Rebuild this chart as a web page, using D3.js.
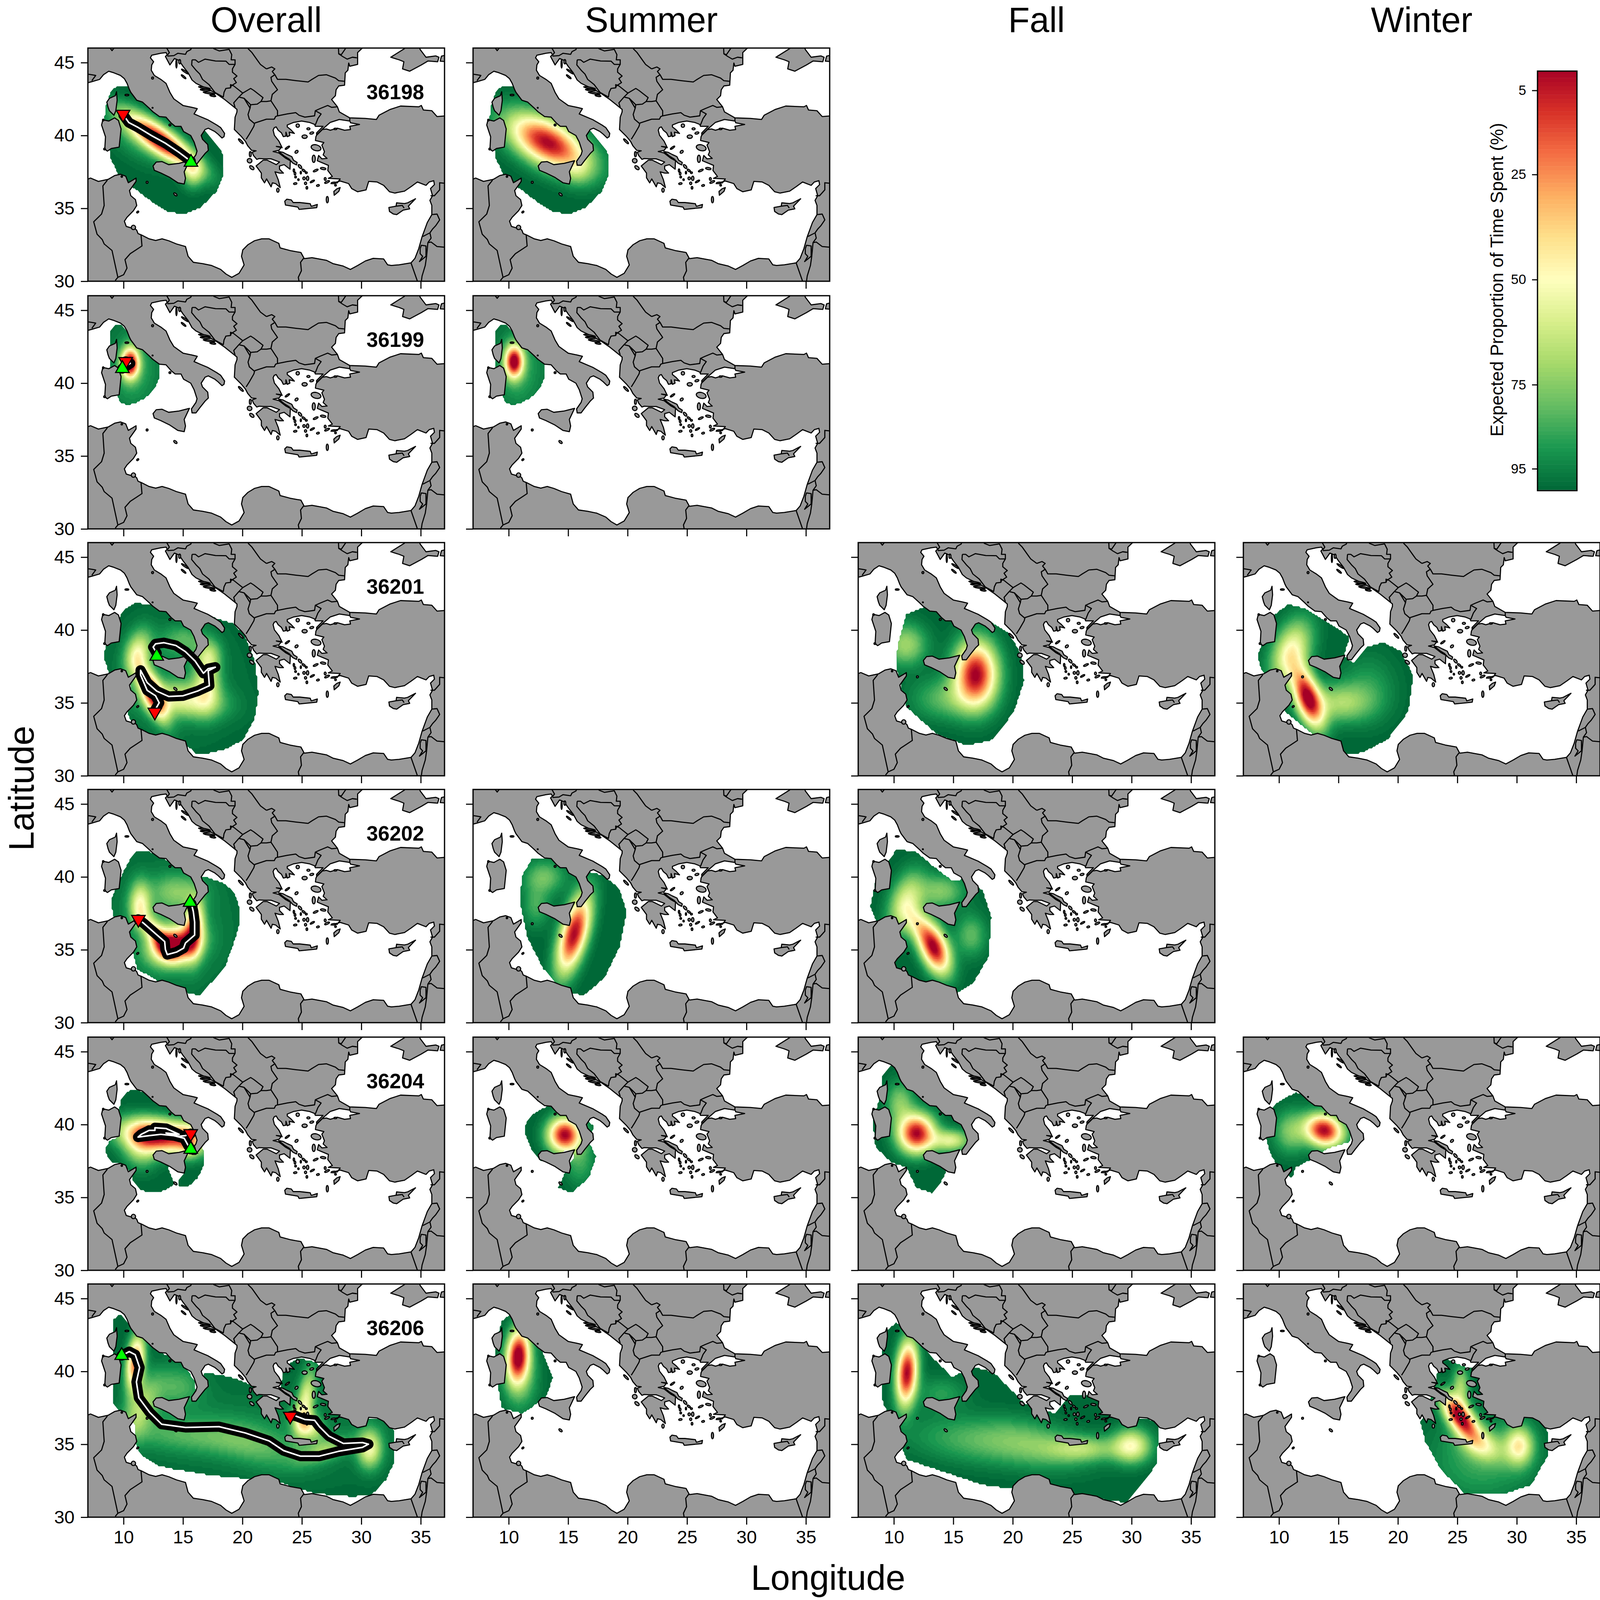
<!DOCTYPE html>
<html>
<head>
<meta charset="utf-8">
<script src="https://cdn.jsdelivr.net/npm/d3@7"></script>
<style>
  body { margin: 0; background: #fff; }
  text { font-family: "Liberation Sans", Arial, sans-serif; fill: #000; }
</style>
</head>
<body>
<div id="chart"></div>
<script>
// Labels and ticks
const seasons = ["Overall", "Summer", "Fall", "Winter"];
const tagIds = ["36198", "36199", "36201", "36202", "36204", "36206"];
const lonTicks = [10, 15, 20, 25, 30, 35];
const latTicks = [30, 35, 40, 45];
const legendTicks = [5, 25, 50, 75, 95];
const legendCells = d3.range(0, 100);

// Map, all [lon, lat]. Land is one ring round the sea plus the map corners
const landRing = [[6.8,43.58],[7.33,43.69],[7.99,43.85],[8.31,44.17],[8.75,44.41],[9.19,44.3],[9.74,44.12],[10.07,43.9],[10.29,43.58],[10.5,43.14],[10.61,42.96],[11.11,42.42],[11.6,42.29],[12.15,41.88],[12.48,41.62],[13.02,41.3],[13.57,41.26],[14.01,40.85],[14.34,40.63],[14.83,40.63],[15.05,40.27],[15.65,40],[15.93,39.56],[16.18,38.93],[16.09,38.68],[15.71,38.23],[15.76,37.96],[16.09,37.96],[16.42,38.32],[16.86,38.77],[17.13,38.98],[17.08,39.38],[16.64,39.74],[16.53,40],[16.86,40.41],[17.13,40.5],[17.68,40.27],[17.95,40.09],[18.28,39.83],[18.45,39.92],[18.5,40.14],[18.17,40.54],[17.84,40.72],[17.08,41.08],[15.93,41.48],[16.2,41.84],[15.76,41.93],[15,42.06],[14.23,42.51],[13.9,42.96],[13.57,43.58],[13.13,43.85],[12.59,44.12],[12.33,44.48],[12.37,44.84],[12.53,45.06],[12.26,45.33],[12.37,45.51],[13.13,45.64],[13.57,45.69],[13.68,45.55],[13.52,45.42],[13.9,44.84],[14.28,45.28],[14.67,45.15],[15,44.75],[15.43,44.3],[15.76,43.81],[16.09,43.58],[16.8,43.3],[17.73,42.91],[18.5,42.47],[19.27,41.97],[19.54,41.79],[19.54,41.62],[19.38,41.26],[19.32,40.41],[19.92,39.92],[20.25,39.6],[20.44,39.3],[20.77,38.98],[21.15,38.95],[20.82,38.85],[20.93,38.63],[21.21,38.36],[21.4,38.42],[21.86,38.4],[22.41,38.4],[23.12,38.18],[22.85,38],[22.08,38.31],[21.75,38.31],[21.15,37.91],[21.59,37.42],[21.59,37.1],[21.86,36.75],[22.03,37.02],[22.41,36.48],[22.52,36.75],[22.79,36.7],[23.18,36.43],[23.01,36.97],[22.74,37.51],[23.12,37.42],[23.45,37.42],[23.12,37.69],[23.12,37.91],[23.51,38],[24,37.69],[24.03,38.27],[23.62,38.45],[23.07,38.8],[22.58,38.9],[23.07,38.98],[23.29,39.21],[22.85,39.25],[23.34,39.16],[23.07,39.61],[22.69,40.01],[22.58,40.37],[22.68,40.54],[22.84,40.59],[23.01,40.36],[23.28,40.18],[23.44,39.92],[23.66,39.96],[23.66,40.23],[23.77,39.92],[23.99,40],[23.94,40.23],[24.37,40.14],[24.05,40.41],[23.77,40.59],[23.77,40.72],[24.32,40.9],[24.98,40.99],[25.63,40.9],[26.07,40.76],[26.13,40.63],[26.78,40.63],[26.24,40.18],[26.24,40.05],[26.78,40.47],[27.39,40.9],[28.15,41.1],[29.03,40.99],[29.1,40.87],[29.85,40.76],[29.03,40.63],[29.09,40.41],[28.59,40.36],[27.98,40.5],[27.39,40.36],[27.06,40.45],[26.73,40.41],[26.24,40.02],[26.18,39.92],[26.14,39.66],[26.85,39.52],[26.68,39.34],[26.9,38.89],[26.79,38.67],[27.12,38.43],[26.68,38.4],[26.41,38.63],[26.3,38.27],[27.23,37.95],[27.18,37.6],[27.56,37.19],[27.23,37.06],[28.22,37.02],[27.98,36.75],[27.45,36.7],[28.22,36.88],[28.93,36.7],[29.19,36.36],[29.69,36.14],[30.4,36.27],[30.62,36.85],[31.33,36.81],[31.88,36.58],[32.37,36.14],[32.81,36.05],[33.63,36.18],[34.18,36.49],[34.72,36.81],[35.44,36.58],[35.71,36.81],[36.09,36.9],[36.15,36.63],[35.82,36.36],[35.99,35.87],[35.77,35.55],[35.93,35.2],[35.93,34.57],[35.55,34.03],[35.11,33.05],[34.83,32.24],[34.51,31.57],[34.18,31.26],[33.19,31.13],[32.53,31.08],[32.21,31.13],[31.88,31.53],[31,31.57],[30.34,31.39],[29.69,31.08],[29.08,30.81],[28.48,31.04],[27.61,31.21],[27.06,31.44],[25.85,31.62],[25.2,31.55],[24.92,31.97],[23.99,32.11],[23.17,32.29],[23.06,32.6],[22.24,32.91],[21.62,32.91],[21.02,32.78],[20.47,32.51],[20.03,32.15],[19.92,31.71],[20.14,31.12],[19.71,30.54],[19.1,30.27],[18.61,30.5],[18.17,30.81],[17.41,31.08],[16.64,31.21],[15.87,31.3],[15.43,31.71],[15.21,32.38],[14.45,32.56],[13.79,32.78],[13.24,32.91],[12.7,32.8],[12.15,32.91],[11.49,33.18],[11.22,33.27],[11.11,33.5],[10.94,33.63],[10.61,33.67],[10.23,33.76],[10.07,34.12],[10.29,34.39],[10.83,34.84],[11.11,35.2],[11,35.6],[10.61,35.87],[10.5,36.22],[11.05,36.85],[11.05,37.08],[10.78,36.94],[10.4,36.76],[10.18,37.21],[9.74,37.34],[9.25,37.25],[8.7,36.99],[7.88,36.85],[7.22,37.08],[6.8,36.94],[6.8,29.8],[37.2,29.8],[37.2,46.2],[6.8,46.2]];
const blackSea = [[30.34,46.2],[29.69,45.69],[29.69,44.88],[29.03,44.75],[28.94,44.97],[28.87,44.48],[28.65,44.3],[28.59,43.45],[28.1,43.4],[27.88,43.14],[27.82,42.73],[27.5,42.47],[27.99,41.97],[28.15,41.62],[29.03,41.21],[30.34,41.17],[31.27,41.1],[31.49,41.39],[32.43,41.79],[33.3,42.02],[34.84,41.97],[35.05,42.06],[35.22,41.75],[35.93,41.7],[36.37,41.3],[37.2,41.35],[37.2,46.2]];
const crimea = [[32.48,45.37],[33.63,45.96],[33.69,46.2],[34.89,46.2],[34.94,45.91],[35.44,45.37],[36.26,45.46],[36.53,45.37],[36.42,45.06],[35.6,45.11],[35.05,44.84],[34.07,44.41],[33.47,44.57],[33.58,45.06],[33.19,45.19]];
const taman = [[36.7,45.33],[36.75,45.45],[37.3,45.55],[37.3,45.06],[36.64,45.1]];
const corsica = [[9.41,43],[9.46,42.42],[9.35,41.7],[9.19,41.39],[8.81,41.7],[8.7,41.93],[8.59,42.29],[8.81,42.55],[9.3,42.73]];
const sardinia = [[9.25,41.21],[9.57,41.03],[9.79,40.45],[9.63,39.2],[8.97,39.11],[8.64,38.93],[8.42,39.07],[8.48,39.91],[8.15,40.72],[8.26,41.08],[8.75,40.99]];
const sicily = [[12.48,37.91],[12.75,38.18],[13.24,38.21],[13.79,38],[14.67,38.09],[15.54,38.27],[15.1,37.51],[15.21,37.06],[15.1,36.67],[14.56,36.76],[13.9,37.12],[13.13,37.43],[12.59,37.61]];
const crete = [[23.56,35.49],[23.73,35.63],[24.11,35.58],[24.27,35.4],[24.82,35.4],[25.7,35.32],[25.79,35.14],[26.3,35.27],[26.25,35.05],[24.77,34.93],[24.66,35.09],[23.62,35.23]];
const rhodes = [[28.22,36.43],[28.11,36.17],[27.72,35.9],[27.69,36.16],[27.94,36.34]];
const cyprus = [[34.56,35.66],[33.9,35.38],[33.63,35.33],[32.97,35.38],[32.92,35.15],[32.32,35.06],[32.37,34.79],[32.7,34.61],[32.97,34.57],[33.52,34.88],[34.07,34.97],[33.96,35.15]];
const evia = [[23.05,38.9],[23.4,38.85],[23.75,38.7],[24.15,38.55],[24.3,38.3],[24.6,38.15],[24.55,37.98],[24.25,38.1],[23.9,38.4],[23.5,38.6]];
const islands = [blackSea, crimea, taman, corsica, sardinia, sicily, crete, rhodes, cyprus, evia];

// small islands and lakes: lon, lat, half width and half height in degrees, tilt
const islets = [[10.28,42.78,.16,.05,0],[12.44,43.94,.08,.07,0],[12.44,41.9,.04,.03,0],[13.9,40.72,.08,.06,0],[8.4,39.07,.07,.06,0],[8.29,41.06,.06,.06,0],[9.85,37.18,.06,.05,0],[14.45,44.93,.05,.3,0],[14.72,45.06,.08,.15,0],[15.16,44.39,.35,.05,35],[15.05,44.03,.25,.05,40],[16.8,43.27,.5,.05,10],[16.9,43.12,.45,.05,5],[17.19,42.91,.5,.05,10],[17.51,42.73,.25,.05,10],[19.87,39.6,.28,.06,45],[20.66,38.72,.08,.18,0],[20.6,38.27,.2,.15,20],[20.79,37.79,.22,.1,40],[22.98,36.25,.1,.14,0],[27.14,35.6,.09,.22,0],[14.36,35.96,.17,.07,40],[11.98,36.79,.08,.07,0],[11.19,34.75,.1,.05,-40],[10.83,33.69,.18,.15,0],[24.65,40.68,.14,.12,0],[25.23,39.92,.22,.12,0],[25.55,40.46,.13,.07,0],[25.83,40.17,.17,.07,-15],[24.55,38.88,.1,.12,50],[23.78,39.16,.22,.05,-35],[26.19,39.16,.42,.2,15],[26,38.4,.13,.25,0],[26.79,37.73,.23,.07,10],[26.16,37.6,.22,.06,-25],[24.84,37.87,.2,.08,50],[25.15,37.6,.15,.06,35],[25.37,37.45,.08,.06,0],[24.33,37.6,.06,.11,0],[24.42,37.39,.07,.1,0],[24.47,37.15,.07,.06,0],[24.44,36.7,.14,.06,-10],[24.71,36.97,.06,.06,0],[24.91,37.45,.05,.09,0],[25.18,37.06,.1,.1,0],[25.48,37.06,.1,.15,0],[25.31,36.72,.09,.09,0],[25.42,36.41,.07,.09,0],[25.88,36.85,.2,.05,-30],[26.35,36.57,.12,.06,-20],[27.12,36.81,.22,.06,-25],[26.96,37.02,.08,.1,0],[27.83,36.59,.07,.06,0],[27.67,36.75,.2,.05,-5],[27.82,40.45,.12,.05,0]];

const borders = [
  [[13.63,46],[13.85,45.69],[13.68,45.5]],
  [[13.68,45.45],[14.23,45.48],[14.56,45.64],[15.21,45.57],[15.32,45.75],[15.65,45.89],[15.71,46]],
  [[17.57,45.96],[18.06,45.8],[18.88,45.91],[19.1,45.55],[19.05,45.19],[19.38,45.19],[19.38,44.88],[19.16,44.57],[19.16,44.34],[19.54,44.08],[19.27,43.9],[19.49,43.63],[19.05,43.4],[19,43.27]],
  [[15.76,45.19],[16.04,45.19],[16.31,45.02],[16.86,45.24],[17.73,45.11],[18.61,45.1],[18.88,44.88],[19.38,44.88]],
  [[15.76,45.19],[15.73,44.84],[16.09,44.48],[16.42,44.21],[16.64,43.85],[17.19,43.49],[17.68,42.96]],
  [[17.68,42.96],[18.39,42.64],[18.45,42.96],[18.61,43.23],[19,43.27],[19,43.49],[19.27,43.4],[20.03,42.91],[19.7,42.64],[19.27,42.24],[19.38,41.93]],
  [[20.03,42.91],[20.69,43.23],[20.96,43.09],[21.73,42.6],[21.56,42.33],[21.24,42.15],[20.69,42.11],[20.53,42.24],[20.14,42.55],[19.7,42.64]],
  [[20.14,42.55],[20.64,41.88],[20.47,41.44],[20.58,41.12],[21.02,40.81],[20.96,40.63],[20.58,40.09],[20.31,39.74]],
  [[20.69,42.11],[20.64,41.88]],
  [[21.56,42.33],[22.02,42.33],[22.4,42.38],[22.95,41.7],[22.95,41.35],[22.79,41.3],[22.68,41.12],[22.02,41.12],[21.02,40.85]],
  [[22.02,44.57],[22.46,44.7],[22.73,44.57],[22.51,44.39],[22.73,44.17],[22.4,43.99],[22.46,43.72],[22.95,43.14],[22.51,42.82],[22.4,42.38]],
  [[20.47,45.96],[20.8,45.69],[21.35,45.06],[21.51,44.88],[22.02,44.57]],
  [[22.73,44.17],[22.95,43.85],[23.66,43.85],[24.54,43.76],[25.52,43.67],[25.85,43.85],[26.4,44.12],[27.06,44.17],[27.82,43.94],[28.1,43.76],[28.59,43.72]],
  [[22.95,41.35],[23.77,41.48],[24.48,41.57],[24.76,41.39],[25.25,41.26],[26.07,41.35],[26.13,41.7],[26.51,41.84],[27.17,42.06],[27.5,41.93],[27.99,41.97]],
  [[26.13,41.7],[26.62,41.48],[26.35,41.17],[26.13,40.72]],
  [[29.03,41.21],[29.03,40.99]],
  [[28.08,46],[28.1,45.6],[28.43,45.42],[28.81,45.24],[29.25,45.37],[29.63,45.33]],
  [[28.7,46],[28.32,45.55],[28.1,45.6]],
  [[35.82,35.87],[36.15,35.87],[36.59,36.27],[36.59,36.76],[37.04,36.72]],
  [[35.93,34.57],[36.37,34.61],[36.59,34.21],[36.26,33.81],[35.99,33.58],[35.77,33.32],[35.17,33.07]],
  [[35.77,33.32],[35.87,32.96],[35.6,32.65],[35.87,32.69],[36.37,32.38],[37.04,32.33]],
  [[35.6,32.65],[35.49,31.7],[35.38,31.08],[35.11,30.36],[35.05,30]],
  [[34.95,32.24],[35.05,32.47],[35.44,32.42],[35.44,31.71],[34.89,31.35],[35.16,31.71],[34.95,31.89],[34.95,32.24]],
  [[34.18,31.26],[34.72,30]],
  [[25.14,31.57],[24.89,31.3],[24.96,30.72],[24.7,30.27],[24.76,30]],
  [[8.64,36.94],[8.26,36.54],[8.37,35.2],[8.15,34.61],[7.49,34.08],[7.77,33.23],[8.2,32.87],[8.37,32.56],[9.03,32.11],[9.52,30.27],[9.3,30.05]],
  [[9.52,30.27],[10.01,30.45],[10.29,30.9],[10.12,31.48],[10.56,31.89],[11.55,32.42],[11.47,33.18]],
  [[7,44.21],[7.33,44.17],[7.66,44.12],[7.33,43.76]],
  [[32.92,35.15],[33.45,35.2],[33.6,35.02]],
  [[8.86,46],[9.03,45.82],[9.2,46]]
];

// Home range edges
const edge36198 = [[9.26,43.27],[9.76,43.4],[10.44,43.38],[12.5,42.5],[15,41.5],[16.5,40.6],[16.89,40.27],[17.8,39.42],[18.36,38.75],[18.43,37.28],[17.8,36.15],[16.44,35.02],[15.08,34.59],[13.72,34.79],[12.36,35.47],[11,36.32],[9.65,37.16],[8.86,38.52],[8.79,39.31],[8.4,41],[8.47,41.8],[8.86,42.93]];
const edge36199 = [[8.97,43.69],[9.41,44.03],[9.85,44],[10.29,43.51],[11.5,42.6],[13.02,41.27],[13.02,40.37],[12.8,39.93],[12.37,39.39],[11.71,38.94],[11.05,38.68],[10.4,38.5],[9.85,38.63],[9.57,38.94],[9.5,40],[8.86,41.18],[8.86,42.6],[8.86,43.5]];
const edge36201 = [[10.98,41.89],[11.99,41.75],[15,41.5],[18.23,40.69],[19.23,40.43],[20.24,39.58],[21.04,37.98],[21.35,35.65],[21.04,33.95],[20.04,32.46],[18.63,31.83],[17.22,31.56],[16.01,31.56],[15.41,32.04],[13,32.3],[11,33.2],[10.6,33.8],[10.38,34.27],[10.68,36.18],[8.77,37.03],[8.37,38.09],[8.47,38.83],[9.78,41.06],[10.18,41.49]];
const edge36201Fall = [[12.77,41.64],[11.05,41.07],[10.36,38.96],[10.19,37.56],[11.05,34.74],[13.63,32.84],[16.2,32.07],[18.37,32.49],[20.09,34.39],[20.95,36.5],[20.78,38.26],[19.66,39.81],[17.94,40.65],[16.2,40.72],[14.5,41.2]];
const edge36201Winter = [[10.79,41.78],[12.25,41.43],[13.98,40.58],[15.96,39.53],[15.44,38.26],[16.3,37.7],[17.42,38.82],[18.71,39.17],[20.26,38.54],[21.3,36.85],[20.87,34.39],[19.14,32.49],[16.99,31.57],[14.84,31.5],[12.68,32.98],[10.53,34.39],[9.67,36.5],[8.55,37.2],[8.2,38.26],[8.81,39.67],[9.67,41.07]];
const edge36202 = [[11.6,41.81],[11.05,41.69],[10.4,41.02],[9.85,40.12],[9.25,39.05],[9.03,38.51],[9.08,37.35],[10.6,35.5],[11.16,33.68],[12.5,33.05],[14.2,32.3],[16.39,31.86],[18.1,33.4],[18.5,33.77],[19.27,35.47],[19.7,36.63],[19.7,37.98],[19.38,38.78],[18.61,39.5],[16.75,40.03],[16.64,39.99],[14.67,40.75],[12.15,41.73]];
const edge36202Summer = [[12,41.29],[11.13,40.09],[10.96,38.33],[11.56,35.87],[12.86,33.76],[14.58,32.14],[16.3,31.86],[18.03,33.05],[19.32,35.16],[19.92,37.63],[19.32,39.17],[18.03,40.09],[16.3,40.44],[15,40.8],[13.72,41.29]];
const edge36202Fall = [[10.19,41.85],[8.46,39.74],[8.03,37.98],[9.33,35.16],[10.62,33.05],[12.77,32.35],[14.92,31.86],[16.65,32.7],[17.94,34.46],[18.2,37.27],[17.5,39.03],[16.2,39.87],[14.92,39.73],[13.2,40.8],[11.9,41.7],[10.62,41.85]];
const edge36204 = [[11.16,42.42],[10.29,42.29],[9.85,41.84],[9.63,41.12],[9.74,40.32],[9.68,39.15],[8.86,38.88],[8.53,38.44],[8.53,37.99],[8.97,37.45],[9.85,37.27],[10.61,36.74],[10.78,36.2],[11.38,35.57],[11.93,35.35],[12.8,35.32],[13.68,35.57],[14.28,35.88],[14.01,36.56],[13.62,37.19],[15.16,36.74],[14.61,36.24],[14.67,35.75],[15.54,35.8],[16.2,36.29],[16.8,37.27],[16.8,37.9],[16.64,38.35],[16.2,39.6],[15.65,40.05],[13.57,41.39],[11.93,42.11]];
const edge36204Summer = [[12,40.72],[13.29,41.28],[15.44,41.14],[17.16,39.88],[16.73,38.82],[17.34,37.77],[16.73,36.36],[15.27,35.3],[14.15,35.66],[14.75,36.71],[15.61,37.9],[15,38.33],[12.86,37.41],[12,38.12],[11.31,39.53],[11.48,40.23]];
const edge36204Fall = [[9.76,44.1],[11.05,43.96],[12.77,42.34],[14.92,40.93],[16.2,39.88],[16.47,38.47],[14.92,38.12],[14.23,36.36],[13.2,35.3],[11.9,35.66],[11.05,37.06],[9.76,37.41],[8.46,38.47],[8.2,40.23],[8.9,41.99],[9.07,43.4]];
const edge36204Winter = [[10.1,41.64],[11.39,42.2],[13.12,41.99],[14.84,40.93],[16.13,39.88],[15.96,38.82],[13.98,38.33],[13.12,37.77],[11.39,37.06],[11.13,36.36],[10.1,36.71],[9.24,38.12],[8.64,39.88],[9.07,40.93]];
const edge36206 = [[9.68,43.92],[9.17,43.56],[9.07,42.35],[9.07,39.06],[9.17,37.75],[9.78,37.2],[10.98,36.32],[10.98,35.23],[11.39,34.35],[12.79,33.58],[14.2,33.31],[17.42,32.87],[20.24,32.65],[23.26,32.38],[24.26,32.05],[26.28,31.61],[29.29,31.41],[30.9,31.56],[32.11,32.6],[32.71,33.69],[32.71,36],[32.11,36.65],[29.29,36.87],[27.88,37.09],[26.88,39.6],[26.28,40.6],[24.67,40.93],[23.46,40.27],[23.26,39.06],[22.86,37.97],[21.85,38.19],[20.84,39.06],[19.03,39.6],[16.82,39.94],[16.62,39.06],[16.01,38.73],[16.01,39.28],[15,40.49],[12.79,41.47],[10.98,42.68],[10.28,43.45]];
const edge36206Summer = [[9.41,43.47],[10.27,43.96],[11.31,43.47],[12.43,42.06],[13.72,39.6],[13.12,38.19],[11.13,37.13],[9.41,37.48],[8.98,39.6],[8.81,41.36]];
const edge36206Fall = [[10.19,43.33],[9.33,42.76],[8.9,40.65],[9.07,37.84],[10.19,36.08],[11.05,33.97],[17.5,32.21],[24.4,31.5],[29.57,31.01],[32.1,33.61],[32.3,36.57],[28.7,37.1],[27,38.4],[24.83,38.4],[23.5,37.1],[20.95,37.84],[18.37,39.95],[16.65,40.3],[14.9,39.6],[12.77,41.36],[11.48,42.76]];
const edge36206Winter = [[23.88,40.93],[25.6,40.3],[26.47,40.3],[27.33,37.84],[29.91,37.13],[32.5,36.78],[32.67,34.32],[31.2,32.21],[29.05,31.64],[25.6,31.64],[23.6,33.3],[22.3,35.2],[21.9,36.5],[22.5,37.5],[23.1,39],[23.3,39.9]];

// Hot spots: lon, lat, long sd, short sd, tilt, peak
const hot36198 = [[13.2,39.6,2.3,.62,-30,1],[15.8,37.4,.6,.7,0,.28],[11,40,2,1,-30,.14]];
const hot36198Summer = [[13.3,39.5,2.4,1.05,-22,1],[15.9,37.5,.8,.7,0,.12]];
const hot36199 = [[10.56,41.36,.5,.7,0,1],[10.8,41,1.5,2,0,.14]];
const hot36199Summer = [[10.45,41.48,.52,.75,0,1],[10.8,41,1.5,2,0,.14]];
const hot36201 = [[12.4,35.7,1.4,.55,-60,.85],[15,35.2,2.2,.8,-5,.4],[17,36.5,.75,1.3,0,.4],[11.2,38.4,.7,1.1,-20,.42],[17.2,38.3,.7,.7,0,.22],[15,39.3,1.3,.7,0,.16],[14,36.5,4,3,0,.06]];
const hot36201Fall = [[16.9,37,1.2,1.5,0,1],[11,39,1.2,1,0,.3],[14.5,35.3,2,1,0,.2]];
const hot36201Winter = [[12.4,35.4,1.5,.7,-65,1],[11,38.5,1,1.6,-30,.5],[15,35,1.8,.9,0,.3],[17.5,36,1.6,1.6,0,.12]];
const hot36202 = [[14.3,35.3,1.3,.8,10,1],[12.8,36,1.3,.5,-45,.5],[15.8,36,.55,1.2,0,.5],[16.1,37.2,.5,1,0,.35],[11.4,38.2,.6,1,0,.42],[14.5,39,1.5,.8,0,.2],[14,36.5,3.5,3,0,.1]];
const hot36202Summer = [[15.5,36.1,1.9,.75,70,1],[13,40,1.2,.8,0,.22],[12.3,38,.8,1,0,.16]];
const hot36202Fall = [[13.4,35.1,1.3,.75,-60,1],[11,38.2,.9,1.5,-25,.42],[14,39,1.3,.8,0,.25],[12,36.7,1,.6,-50,.3],[16.5,36,.9,1,0,.2]];
const hot36204 = [[13.3,39.2,2.3,.75,-6,1],[11.5,38.5,1,1,0,.32],[15.5,39,.6,.8,0,.28]];
const hot36204Summer = [[14.7,39.3,.95,.8,0,1],[16,37.5,.9,1.2,0,.15]];
const hot36204Fall = [[11.9,39.4,1.05,.9,0,1],[14.8,38.9,1.1,.5,0,.42],[10.5,41.5,.8,1,0,.25]];
const hot36204Winter = [[13.8,39.6,1.1,.75,-10,1],[11,39.5,1,1,0,.25]];
const hot36206 = [[11,40.6,.5,1.3,-8,.8],[25.3,37.9,.5,1.6,-12,.42],[25.5,36.3,.9,.6,-30,.42],[30.7,34.7,.7,.9,0,.45],[27,34.6,1.5,.5,15,.25],[15,35.6,4,.8,-5,.14],[21,35,3,1,-15,.14],[14.5,39,1.5,1,0,.16],[11.5,37.5,.8,1.5,-30,.3],[22,36,11,2.5,0,.05]];
const hot36206Summer = [[10.8,41.1,.65,1.25,-5,1],[11,39.5,1,1.5,0,.2]];
const hot36206Fall = [[11.1,39.9,.6,1.5,-5,1],[30,34.9,1.1,.8,0,.48],[26,34.7,2,.6,0,.28],[17,35.2,4,1.1,-5,.17],[22,35,3,1.1,-10,.17],[14,38.5,1.5,.8,0,.12]];
const hot36206Winter = [[25.2,36.9,1.3,.6,-45,1],[30.2,34.9,.8,.9,0,.5],[27,35,1.3,.7,-20,.35],[25.3,39,.5,1,0,.3],[27,34,3,2,0,.15]];

// row, column, edge, hot spots
const heatPanels = [
  [0,0,edge36198,hot36198],[0,1,edge36198,hot36198Summer],
  [1,0,edge36199,hot36199],[1,1,edge36199,hot36199Summer],
  [2,0,edge36201,hot36201],[2,2,edge36201Fall,hot36201Fall],[2,3,edge36201Winter,hot36201Winter],
  [3,0,edge36202,hot36202],[3,1,edge36202Summer,hot36202Summer],[3,2,edge36202Fall,hot36202Fall],
  [4,0,edge36204,hot36204],[4,1,edge36204Summer,hot36204Summer],[4,2,edge36204Fall,hot36204Fall],[4,3,edge36204Winter,hot36204Winter],
  [5,0,edge36206,hot36206],[5,1,edge36206Summer,hot36206Summer],[5,2,edge36206Fall,hot36206Fall],[5,3,edge36206Winter,hot36206Winter]
];

// Tracks for the Overall column, release to last fix
const tracks = [
  [[15.65,38.24],[14.63,38.86],[13.5,39.48],[12.36,39.99],[11.23,40.55],[10.44,40.89],[9.99,41.4]],
  [[9.9,41],[10.56,41.36],[10.18,41.49]],
  [[12.79,38.41],[12.49,38.83],[12.69,39.05],[13.4,39.13],[14.4,38.94],[15.2,38.52],[16.01,37.88],[16.72,37.03],[17.12,37.35],[17.72,37.45],[17.12,37.2],[17.22,36.18],[16.22,35.81],[15.01,35.49],[13.8,35.44],[12.79,35.81],[11.99,36.39],[11.43,37.24],[11.43,36.92],[11.99,35.86],[12.69,35.49],[13,35.01],[12.63,34.48]],
  [[15.71,38.15],[15.87,37.62],[15.98,36.9],[15.98,36.01],[15.21,35.47],[15.05,35.11],[14.45,34.84],[13.68,34.67],[13.52,35.02],[13.46,35.56],[12.7,36.1],[11.71,36.81],[11.25,37.09]],
  [[15.65,38.3],[15.43,38.57],[15.1,39.06],[14.23,39.24],[13.13,39.33],[12.15,39.24],[11.22,39.14],[11.49,39.33],[12.15,39.6],[12.64,39.6],[12.64,39.78],[13.57,39.73],[14.67,39.33],[13.57,39.42],[14.67,39.2],[15.21,39.24],[15.65,39.38]],
  [[9.84,41.09],[10.48,41.36],[10.98,41.15],[11.35,40.27],[11.08,39.28],[11.29,38.19],[12.19,37.2],[13.2,36.38],[15.21,36.16],[18.03,36.21],[20.24,35.78],[22.25,35.23],[23.46,34.57],[24.87,34.19],[26.48,34.19],[28.09,34.52],[30.1,34.79],[30.6,35.01],[30.1,35.12],[28.49,35.06],[27.28,35.56],[26.48,36.21],[26.07,36.65],[25.27,36.7],[24.36,36.98],[24.02,36.93]]
];
const trackStarts = [[15.67,38.16],[9.9,41],[12.79,38.2],[15.6,38.25],[15.65,38.3],[9.84,41.09]];
const trackEnds = [[9.96,41.46],[10.18,41.49],[12.63,34.37],[11.25,37.09],[15.65,39.38],[24.02,36.93]];

// Panels that have a map, as row and column
const mapPanels = [[0,0],[0,1],[1,0],[1,1],[2,0],[2,2],[2,3],[3,0],[3,1],[3,2],[4,0],[4,1],[4,2],[4,3],[5,0],[5,1],[5,2],[5,3]];

// Layout
const width = 4110, height = 4103;
const panelW = 913, panelH = 597;
const colLeft = [225, 1211, 2197, 3183];
const rowTop = [123, 757, 1389, 2021, 2655, 3287];

const svg = d3.select("#chart").append("svg")
    .attr("width", width).attr("height", height)
    .style("display", "block");

const x = d3.scaleLinear().domain([7, 37]).range([0, panelW]);
const y = d3.scaleLinear().domain([30, 46]).range([panelH, 0]);

// RdYlGn, 0 is dark red and 100 dark green
const colour = d3.scaleLinear()
    .domain(d3.range(0, 101, 10))
    .range(d3.schemeRdYlGn[11]);

svg.append("defs").append("clipPath").attr("id", "panel-clip")
    .append("rect").attr("width", panelW).attr("height", panelH);

const line = d3.line().x(d => x(d[0])).y(d => y(d[1]));
const landPath = [landRing].concat(islands).map(r => line(r) + "Z").join("");

// Heat surface on a coarse grid, which gives the blocky edge of the original
const cellDeg = 0.125;
const gridW = 240, gridH = 128;

function heatAt(lon, lat, spots) {
    let sum = 0;
    spots.forEach(s => {
        const a = s[4] * Math.PI / 180;
        const dx = lon - s[0], dy = lat - s[1];
        const u = dx * Math.cos(a) + dy * Math.sin(a);
        const v = -dx * Math.sin(a) + dy * Math.cos(a);
        sum += s[5] * Math.exp(-(u * u / (s[2] * s[2]) + v * v / (s[3] * s[3])) / 2);
    });
    return Math.min(1, sum);
}

function drawHeat(g, edge, spots) {
    const values = new Float64Array(gridW * gridH);
    for (let j = 0; j < gridH; j++) {
        for (let i = 0; i < gridW; i++) {
            const lon = 7 + (i + 0.5) * cellDeg, lat = 30 + (j + 0.5) * cellDeg;
            values[j * gridW + i] = d3.polygonContains(edge, [lon, lat]) ? heatAt(lon, lat, spots) : -1;
        }
    }
    const levels = d3.range(0, 1.0001, 1 / 60);
    const contours = d3.contours().size([gridW, gridH]).smooth(false).thresholds(levels)(values);
    const gridPath = d3.geoPath(d3.geoTransform({
        point(gx, gy) { this.stream.point(x(7 + gx * cellDeg), y(30 + gy * cellDeg)); }
    }));
    g.selectAll("path.heat").data(contours).enter().append("path")
        .attr("class", "heat")
        .attr("d", gridPath)
        .attr("fill", d => colour(100 * (1 - d.value)));
}

mapPanels.forEach(([r, c]) => {
    const g = svg.append("g").attr("transform", `translate(${colLeft[c]},${rowTop[r]})`);
    const clip = g.append("g").attr("clip-path", "url(#panel-clip)");

    const heat = heatPanels.find(h => h[0] === r && h[1] === c);
    if (heat) drawHeat(clip, heat[2], heat[3]);

    clip.append("path").attr("d", landPath)
        .attr("fill", "#999").attr("fill-rule", "evenodd")
        .attr("stroke", "#000").attr("stroke-width", 2.8).attr("stroke-linejoin", "round");

    clip.selectAll("path.border").data(borders).enter().append("path")
        .attr("class", "border").attr("d", line)
        .attr("fill", "none").attr("stroke", "#000").attr("stroke-width", 2.8).attr("stroke-linejoin", "round");

    clip.selectAll("ellipse").data(islets).enter().append("ellipse")
        .attr("transform", d => `translate(${x(d[0])},${y(d[1])}) rotate(${d[4]})`)
        .attr("rx", d => x(d[2]) - x(0) + 0)
        .attr("ry", d => y(0) - y(d[3]))
        .attr("fill", "#999").attr("stroke", "#000").attr("stroke-width", 2.8);

    if (c === 0) {
        clip.append("path").attr("d", line(tracks[r]))
            .attr("fill", "none").attr("stroke", "#000").attr("stroke-width", 26)
            .attr("stroke-linecap", "round").attr("stroke-linejoin", "round");
        clip.append("path").attr("d", line(tracks[r]))
            .attr("fill", "none").attr("stroke", "#fff").attr("stroke-width", 4)
            .attr("stroke-linecap", "round").attr("stroke-linejoin", "round");

        const tri = d3.symbol().type(d3.symbolTriangle).size(520);
        g.append("path").attr("d", tri)
            .attr("transform", `translate(${x(trackEnds[r][0])},${y(trackEnds[r][1])}) rotate(180)`)
            .attr("fill", "#f00").attr("stroke", "#000").attr("stroke-width", 2.8);
        g.append("path").attr("d", tri)
            .attr("transform", `translate(${x(trackStarts[r][0])},${y(trackStarts[r][1])})`)
            .attr("fill", "#0f0").attr("stroke", "#000").attr("stroke-width", 2.8);

        g.append("text").attr("x", x(32.86)).attr("y", y(42.5))
            .attr("text-anchor", "middle").attr("font-size", 53).attr("font-weight", "bold")
            .text(tagIds[r]);
    }

    // Axes, labels only on the outer edge
    const xAxis = d3.axisBottom(x).tickValues(lonTicks).tickSize(19).tickPadding(15)
        .tickFormat(r === 5 ? d3.format("d") : "");
    const yAxis = d3.axisLeft(y).tickValues(latTicks).tickSize(18).tickPadding(16)
        .tickFormat(c === 0 ? d3.format("d") : "");
    [g.append("g").attr("transform", `translate(0,${panelH})`).call(xAxis),
     g.append("g").call(yAxis)].forEach(a => {
        a.select(".domain").remove();
        a.selectAll("line").attr("stroke-width", 2.8);
        a.selectAll("text").attr("font-size", 47);
    });

    g.append("rect").attr("width", panelW).attr("height", panelH)
        .attr("fill", "none").attr("stroke", "#000").attr("stroke-width", 3.2);
});

// Column titles
svg.selectAll("text.season").data(seasons).enter().append("text")
    .attr("class", "season")
    .attr("x", (d, i) => colLeft[i] + panelW / 2)
    .attr("y", 82)
    .attr("text-anchor", "middle").attr("font-size", 90)
    .text(d => d);

svg.append("text").attr("text-anchor", "middle").attr("font-size", 90)
    .attr("transform", "translate(86,2018) rotate(-90)")
    .text("Latitude");
svg.append("text").attr("text-anchor", "middle").attr("font-size", 90)
    .attr("x", 2120).attr("y", 4070)
    .text("Longitude");

// Colour key
const legendY = d3.scaleLinear().domain([0.4, 100.2]).range([182, 1256]);
const legendLeft = 3936, legendW = 101;
const legend = svg.append("g");
legend.selectAll("rect").data(legendCells).enter().append("rect")
    .attr("x", legendLeft).attr("width", legendW)
    .attr("y", d => legendY(Math.max(d, 0.4)))
    .attr("height", d => legendY(Math.min(d + 1, 100.2)) - legendY(Math.max(d, 0.4)) + 0.5)
    .attr("fill", d => colour(d + 0.5));
legend.append("rect").attr("x", legendLeft).attr("y", legendY(0.4))
    .attr("width", legendW).attr("height", legendY(100.2) - legendY(0.4))
    .attr("fill", "none").attr("stroke", "#000").attr("stroke-width", 3.2);
const legendAxis = legend.append("g").attr("transform", `translate(${legendLeft},0)`)
    .call(d3.axisLeft(legendY).tickValues(legendTicks).tickSize(14).tickPadding(15).tickFormat(d3.format("d")));
legendAxis.select(".domain").remove();
legendAxis.selectAll("line").attr("stroke-width", 2.8);
legendAxis.selectAll("text").attr("font-size", 35);
legend.append("text").attr("text-anchor", "middle").attr("font-size", 46.3)
    .attr("transform", "translate(3848,716) rotate(-90)")
    .text("Expected Proportion of Time Spent (%)");
</script>
</body>
</html>
